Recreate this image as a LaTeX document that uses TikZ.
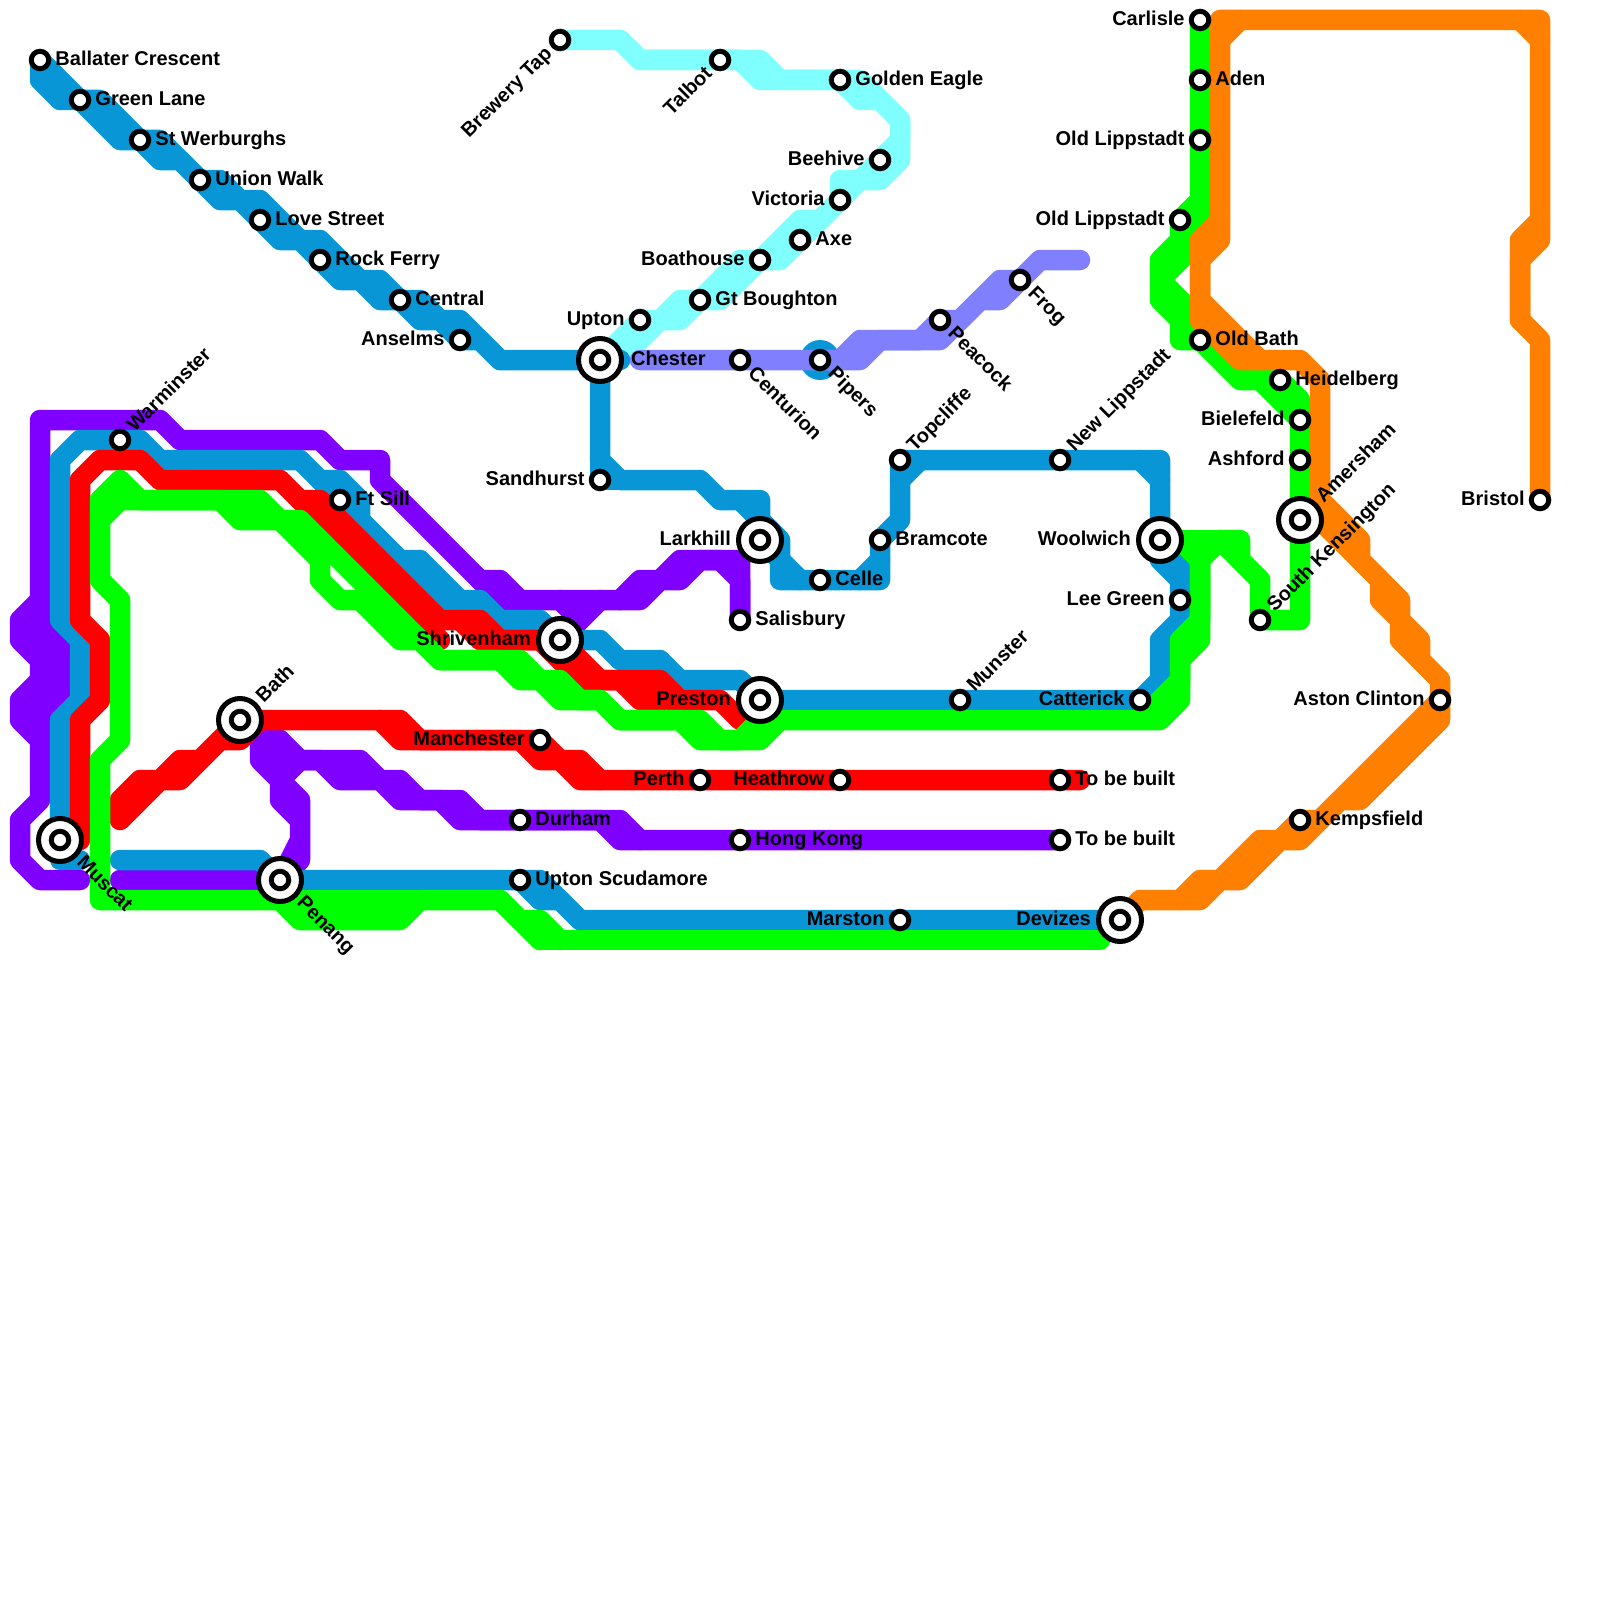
\documentclass[tikz,border=0pt]{standalone}
\usepackage{fontspec}
\setmainfont{Liberation Sans}
\usetikzlibrary{backgrounds}

\definecolor{lineblue}{HTML}{0896D7}
\definecolor{linepurple}{HTML}{8000FF}
\definecolor{linered}{HTML}{FF0000}
\definecolor{linegreen}{HTML}{00FF00}
\definecolor{linecyan}{HTML}{80FFFF}
\definecolor{linelilac}{HTML}{8080FF}
\definecolor{lineorange}{HTML}{FF8000}

\begin{document}
\begin{tikzpicture}[
    x=20pt,
    y=-20pt,
    tag/.style={
        font=\fontsize{20}{24}\bfseries\selectfont,
        text height=15pt,
        text depth=4pt,
        inner sep=4pt
    },
    stop/.style={
        circle,
        draw=black,
        fill=white,
        line width=5pt,
        inner sep=0pt,
        minimum size=17.5pt
    },
    hub/.style={
        circle,
        draw=black,
        fill=white,
        line width=5pt,
        inner sep=0pt,
        minimum size=43pt,
        label={[stop]center:{}}
    },
    onright/.style={label={[tag, anchor=west]0:#1}},
    onleft/.style={label={[tag, anchor=east]180:#1}},
    upright/.style={label={[tag, rotate=45, anchor=west]45:#1}},
    downright/.style={label={[tag, rotate=-45, anchor=west]-45:#1}},
    downleft/.style={label={[tag, rotate=45, anchor=east]225:#1}},
    metro/.style={line width=20.5pt, line join=round, line cap=round},
    blueline/.style={metro, draw=lineblue},
    purpleline/.style={metro, draw=linepurple},
    redline/.style={metro, draw=linered},
    greenline/.style={metro, draw=linegreen},
    cyanline/.style={metro, draw=linecyan},
    lilacline/.style={metro, draw=linelilac},
    orangeline/.style={metro, draw=lineorange}
]

\useasboundingbox (0,0) rectangle (80,80);

% blue stations
\node[stop, onright=Ballater Crescent] (ballater) at (2,3) {};
\node[stop, onright=Green Lane] (greenlane) at (4,5) {};
\node[stop, onright=St Werburghs] (werburghs) at (7,7) {};
\node[stop, onright=Union Walk] (unionwalk) at (10,9) {};
\node[stop, onright=Love Street] (lovestreet) at (13,11) {};
\node[stop, onright=Rock Ferry] (rockferry) at (16,13) {};
\node[stop, onright=Central] (central) at (20,15) {};
\node[stop, onleft=Anselms] (anselms) at (23,17) {};
\node[hub, label={[tag, anchor=west, xshift=3pt]0:Chester}] (chester) at (30,18) {};
\node[stop, onleft=Sandhurst] (sandhurst) at (30,24) {};
\node[hub, label={[tag, anchor=east, xshift=-1pt]180:Larkhill}] (larkhill) at (38,27) {};
\node[stop, onright=Celle] (celle) at (41,29) {};
\node[stop, onright=Bramcote] (bramcote) at (44,27) {};
\node[stop, upright=Topcliffe] (topcliffe) at (45,23) {};
\node[stop, upright=New Lippstadt] (newlippstadt) at (53,23) {};
\node[hub, label={[tag, anchor=east, xshift=-1pt]180:Woolwich}] (woolwich) at (58,27) {};
\node[stop, onleft=Lee Green] (leegreen) at (59,30) {};
\node[stop, onleft=Catterick] (catterick) at (57,35) {};
\node[stop, upright=Munster] (munster) at (48,35) {};
\node[hub, label={[tag, anchor=east, xshift=-1pt]180:Preston}] (preston) at (38,35) {};
\node[hub, label={[tag, anchor=east, xshift=-1pt]180:Shrivenham}] (shrivenham) at (28,32) {};
\node[stop, onright=Ft Sill] (ftsill) at (17,25) {};
\node[stop, upright=Warminster] (warminster) at (6,22) {};
\node[hub, downright=Muscat] (muscat) at (3,42) {};
\node[hub, downright=Penang] (penang) at (14,44) {};
\node[stop, onright=Upton Scudamore] (scudamore) at (26,44) {};
\node[stop, onleft=Marston] (marston) at (45,46) {};
\node[hub, label={[tag, anchor=east, xshift=-1pt]180:Devizes}] (devizes) at (56,46) {};

% cyan and lilac stations
\node[stop, downleft=Brewery Tap] (brewerytap) at (28,2) {};
\node[stop, downleft=Talbot] (talbot) at (36,3) {};
\node[stop, onright=Golden Eagle] (goldeneagle) at (42,4) {};
\node[stop, onleft=Beehive] (beehive) at (44,8) {};
\node[stop, onleft=Victoria] (victoria) at (42,10) {};
\node[stop, onright=Axe] (axe) at (40,12) {};
\node[stop, onleft=Boathouse] (boathouse) at (38,13) {};
\node[stop, onright=Gt Boughton] (boughton) at (35,15) {};
\node[stop, onleft=Upton] (upton) at (32,16) {};
\node[stop, downright=Centurion] (centurion) at (37,18) {};
\node[stop, downright=Pipers] (pipers) at (41,18) {};
\node[stop, downright=Peacock] (peacock) at (47,16) {};
\node[stop, downright=Frog] (frog) at (51,14) {};

% purple and red stations
\node[stop, onright=Salisbury] (salisbury) at (37,31) {};
\node[stop, onright=Durham] (durham) at (26,41) {};
\node[stop, onright=Hong Kong] (hongkong) at (37,42) {};
\node[stop, onright=To be built] (builtpurple) at (53,42) {};
\node[hub, upright=Bath] (bath) at (12,36) {};
\node[stop, onleft=Manchester] (manchester) at (27,37) {};
\node[stop, onleft=Perth] (perth) at (35,39) {};
\node[stop, onleft=Heathrow] (heathrow) at (42,39) {};
\node[stop, onright=To be built] (builtred) at (53,39) {};

% green and orange stations
\node[stop, onleft=Carlisle] (carlisle) at (60,1) {};
\node[stop, onright=Aden] (aden) at (60,4) {};
\node[stop, onleft=Old Lippstadt] (lippstadtone) at (60,7) {};
\node[stop, onleft=Old Lippstadt] (lippstadttwo) at (59,11) {};
\node[stop, onright=Old Bath] (oldbath) at (60,17) {};
\node[stop, onright=Heidelberg] (heidelberg) at (64,19) {};
\node[stop, onleft=Bielefeld] (bielefeld) at (65,21) {};
\node[stop, onleft=Ashford] (ashford) at (65,23) {};
\node[hub, upright=Amersham] (amersham) at (65,26) {};
\node[stop, upright=South Kensington] (southken) at (63,31) {};
\node[stop, onleft=Bristol] (bristol) at (77,25) {};
\node[stop, onleft=Aston Clinton] (aston) at (72,35) {};
\node[stop, onright=Kempsfield] (kempsfield) at (65,41) {};

\begin{scope}[on background layer]

% purple line
\draw[purpleline] (4,44) -- (2,44) -- (1,43) -- (1,41) -- (2,40) -- (2,37) -- (1,36) -- (1,35) -- (2,34) -- (2,33) -- (1,32) -- (1,31) -- (2,30) -- (2,21) -- (8,21) -- (9,22) -- (16,22) -- (17,23) -- (19,23) -- (19,24) -- (24,29) -- (25,29) -- (26,30) -- (31,30) -- (32,29) -- (33,29) -- (34,28) -- (37,28) -- (salisbury.center);
\draw[purpleline] (2,30) -- (3,31) -- (3,35) -- (2,36) -- (2,37);
\draw[purpleline] (2,30) -- (2,37);
\draw[purpleline] (24,29) -- (25,30) -- (26,30);
\draw[purpleline] (31,30) -- (32,30) -- (33,29) -- (34,29) -- (35,28) -- (36,28) -- (37,29) -- (salisbury.center);
\draw[purpleline] (28,30) -- (29,31) -- (30,30) -- (shrivenham.center);
\draw[purpleline] (6,44) -- (penang.center) -- (15,43) -- (15,40) -- (14,39) -- (15,38) -- (14,37) -- (13,37) -- (13,38) -- (14,39) -- (14,40) -- (15,41) -- (15,42) -- (penang.center);
\draw[purpleline] (14,37) -- (14,39);
\draw[purpleline] (15,38) -- (18,38) -- (19,39) -- (20,39) -- (21,40) -- (23,40) -- (24,41) -- (31,41) -- (32,42) -- (hongkong.center) -- (builtpurple.center);
\draw[purpleline] (15,38) -- (16,38) -- (17,39) -- (19,39) -- (20,40) -- (22,40) -- (23,41) -- (durham.center) -- (30,41) -- (31,42) -- (32,42);

% cyan line
\draw[cyanline] (brewerytap.center) -- (31,2) -- (32,3) -- (talbot.center) -- (38,3) -- (39,4) -- (goldeneagle.center) -- (43,4) -- (45,6) -- (45,8) -- (44,9) -- (42,9) -- (victoria.center) -- (41,11) -- (40,11) -- (38,13) -- (37,13) -- (boughton.center) -- (34,15) -- (33,16) -- (upton.center) -- (chester.center);
\draw[cyanline] (31,2) -- (32,3) -- (37,3) -- (38,4) -- (42,4) -- (43,5) -- (44,5) -- (45,6) -- (45,7) -- (beehive.center) -- (43,9) -- (victoria.center) -- (axe.center) -- (39,13) -- (boathouse.center) -- (36,15) -- (boughton.center) -- (34,16) -- (33,16) -- (31,18);

% blue line
\draw[blueline] (ballater.center) -- (greenlane.center) -- (5,5) -- (werburghs.center) -- (8,7) -- (unionwalk.center) -- (11,9) -- (12,10) -- (13,10) -- (15,12) -- (16,12) -- (18,14) -- (19,14) -- (central.center) -- (21,15) -- (22,16) -- (23,16) -- (25,18) -- (chester.center) -- (31,18);
\draw[blueline] (ballater.center) -- (2,4) -- (3,5) -- (greenlane.center) -- (6,7) -- (werburghs.center) -- (8,8) -- (9,8) -- (11,10) -- (12,10) -- (lovestreet.center) -- (14,12) -- (15,12) -- (rockferry.center) -- (17,14) -- (18,14) -- (19,15) -- (central.center) -- (21,16) -- (22,16) -- (anselms.center) -- (24,17) -- (25,18);
\draw[blueline] (chester.center) -- (30,23) -- (31,24) -- (35,24) -- (36,25) -- (38,25) -- (larkhill.center) -- (39,28) -- (39,29) -- (celle.center) -- (44,29) -- (bramcote.center) -- (45,26) -- (topcliffe.center) -- (newlippstadt.center) -- (58,23) -- (woolwich.center) -- (59,28) -- (leegreen.center) -- (59,31) -- (58,32) -- (58,34) -- (catterick.center) -- (munster.center) -- (preston.center);
\draw[blueline] (30,23) -- (sandhurst.center) -- (31,24);
\draw[blueline] (37,25) -- (38,26) -- (39,27) -- (39,28);
\draw[blueline] (39,28) -- (40,29);
\draw[blueline] (43,29) -- (44,28);
\draw[blueline] (45,24) -- (46,23);
\draw[blueline] (57,23) -- (58,24);
\draw[blueline] (woolwich.center) -- (58,28) -- (59,29);
\draw[blueline] (muscat.center) -- (3,36) -- (4,35) -- (4,32) -- (3,31) -- (3,23) -- (4,22) -- (warminster.center) -- (7,22) -- (8,23) -- (15,23) -- (16,24) -- (17,24) -- (18,25) -- (18,26) -- (20,28) -- (21,28) -- (23,30) -- (24,30) -- (25,31) -- (27,31) -- (shrivenham.center) -- (30,32) -- (31,33) -- (33,33) -- (34,34) -- (37,34) -- (preston.center);
\draw[blueline] (16,24) -- (ftsill.center) -- (23,31) -- (25,31);
\draw[blueline] (muscat.center) -- (3,43) -- (4,43);
\draw[blueline] (6,43) -- (13,43) -- (penang.center) -- (scudamore.center) -- (27,44) -- (29,46) -- (marston.center) -- (devizes.center);
\draw[blueline] (scudamore.center) -- (27,45) -- (28,45) -- (29,46);
\fill[lineblue] (pipers.center) circle (20pt);

% lilac line
\draw[lilacline] (32,18) -- (centurion.center) -- (pipers.center) -- (42,18) -- (43,17) -- (46,17) -- (peacock.center) -- (48,16) -- (50,14) -- (frog.center) -- (52,13) -- (54,13);
\draw[lilacline] (pipers.center) -- (43,18) -- (44,17) -- (47,17) -- (49,15) -- (50,15) -- (frog.center);

% red line
\draw[redline] (4,42) -- (4,36) -- (5,35) -- (5,32) -- (4,31) -- (4,24) -- (5,23) -- (7,23) -- (8,24) -- (14,24) -- (15,25) -- (16,25) -- (22,31) -- (24,31) -- (25,32) -- (shrivenham.center) -- (30,34) -- (33,34) -- (34,35) -- (36,35) -- (37,36) -- (preston.center);
\draw[redline] (15,25) -- (21,31) -- (22,32);
\draw[redline] (23,31) -- (24,32) -- (shrivenham.center);
\draw[redline] (27,32) -- (29,34) -- (31,34) -- (32,35) -- (34,35);
\draw[redline] (bath.center) -- (20,36) -- (21,37) -- (manchester.center) -- (28,38) -- (29,38) -- (30,39) -- (perth.center) -- (heathrow.center) -- (builtred.center) -- (54,39);
\draw[redline] (19,36) -- (20,37) -- (26,37) -- (27,38) -- (28,38) -- (29,39) -- (30,39);
\draw[redline] (bath.center) -- (10,38) -- (9,38) -- (8,39) -- (7,39) -- (6,40) -- (6,41) -- (8,39) -- (9,39) -- (11,37) -- (12,37) -- (13,36);

% green line
\draw[greenline] (27,47) -- (25,45) -- (21,45) -- (20,46) -- (15,46) -- (14,45) -- (5,45) -- (5,38) -- (6,37) -- (6,30) -- (5,29) -- (5,25) -- (6,24) -- (7,25) -- (13,25) -- (14,26) -- (15,26) -- (21,32) -- (22,33) -- (26,33) -- (27,34) -- (28,34) -- (29,35) -- (30,35) -- (31,36) -- (35,36) -- (36,37) -- (37,37) -- (38,36) -- (58,36) -- (59,35) -- (59,33) -- (60,32) -- (60,28) -- (61,27) -- (62,27) -- (62,28) -- (63,29) -- (southken.center) -- (65,31) -- (amersham.center) -- (ashford.center) -- (bielefeld.center) -- (65,20) -- (heidelberg.center) -- (62,19) -- (oldbath.center) -- (60,16) -- (58,14) -- (60,12) -- (lippstadtone.center) -- (aden.center) -- (carlisle.center);
\draw[greenline] (5,26) -- (6,25) -- (11,25) -- (12,26) -- (14,26) -- (16,28) -- (16,29) -- (17,30) -- (18,30) -- (20,32) -- (21,32) -- (22,33) -- (25,33) -- (26,34) -- (27,34) -- (28,35) -- (30,35) -- (31,36) -- (34,36) -- (35,37) -- (38,37) -- (39,36);
\draw[greenline] (14,45) -- (21,45);
\draw[greenline] (25,45) -- (26,46) -- (27,46) -- (28,47);
\draw[greenline] (27,47) -- (55,47);
\draw[greenline] (woolwich.center) -- (61,27);
\draw[greenline] (59,27) -- (60,28) -- (60,31) -- (59,32) -- (59,34) -- (57,36);
\draw[greenline] (61,27) -- (63,29);
\draw[greenline] (60,10) -- (lippstadttwo.center) -- (59,12) -- (58,13) -- (58,15) -- (59,16) -- (59,17) -- (oldbath.center);
\draw[greenline] (59,12) -- (59,13);
\draw[greenline] (63,19) -- (bielefeld.center);

% orange line
\draw[orangeline] (devizes.center) -- (57,45) -- (60,45) -- (61,44) -- (62,44) -- (64,42) -- (65,42) -- (67,40) -- (68,40) -- (72,36) -- (72,34) -- (71,33) -- (71,32) -- (70,31) -- (70,30) -- (68,28) -- (68,27) -- (66,25) -- (66,19) -- (65,18) -- (62,18) -- (60,16) -- (60,13) -- (61,12) -- (61,1) -- (77,1) -- (77,12) -- (76,13) -- (76,16) -- (77,17) -- (bristol.center);
\draw[orangeline] (59,45) -- (60,44) -- (61,44) -- (63,42) -- (64,42) -- (kempsfield.center) -- (66,41) -- (aston.center);
\draw[orangeline] (72,34) -- (70,32) -- (70,31) -- (69,30) -- (69,29) -- (66,26);
\draw[orangeline] (61,2) -- (62,1);
\draw[orangeline] (76,1) -- (77,2);
\draw[orangeline] (61,11) -- (60,12) -- (60,16);
\draw[orangeline] (60,15) -- (63,18);
\draw[orangeline] (77,11) -- (76,12) -- (76,16);

\end{scope}

\end{tikzpicture}
\end{document}
